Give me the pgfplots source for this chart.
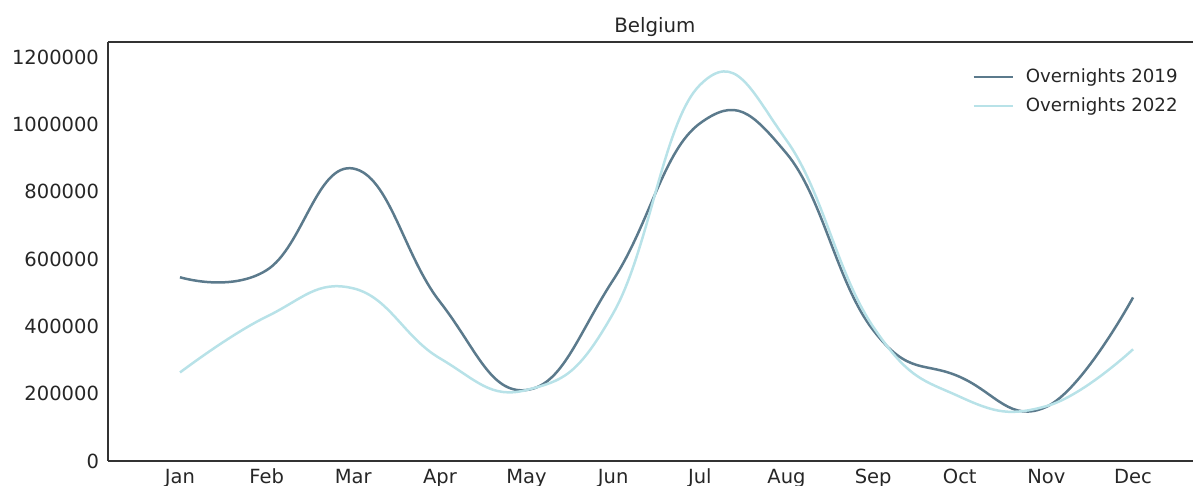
\documentclass[border=0pt]{standalone}
\usepackage{pgfplots}
\pgfplotsset{compat=1.18}
\usepackage{fontspec}
\setmainfont{DejaVu Sans}
\definecolor{dark}{HTML}{5B7A8C}
\definecolor{light}{HTML}{B8E2E8}
\definecolor{txt}{HTML}{262626}
\definecolor{spine}{HTML}{333333}
\begin{document}
\begin{tikzpicture}
\useasboundingbox (-54pt,-12.5pt) rectangle (542.5pt,230.5pt);
\begin{axis}[
  at={(0,0)}, anchor=south west,
  scale only axis,
  width=542.5pt, height=209.5pt,
  xmin=-0.831, xmax=11.692,
  ymin=0, ymax=1245000,
  axis lines=left,
  axis line style={-, color=spine, line width=0.9pt},
  extra description/.code={\draw[spine, line width=0.9pt] (rel axis cs:0,1) -- (rel axis cs:1,1);},
  xtick={0,1,2,3,4,5,6,7,8,9,10,11},
  xticklabels={Jan,Feb,Mar,Apr,May,Jun,Jul,Aug,Sep,Oct,Nov,Dec},
  ytick={0,200000,400000,600000,800000,1000000,1200000},
  yticklabels={0,200000,400000,600000,800000,1000000,1200000},
  scaled y ticks=false,
  major tick length=0pt,
  tick label style={font=\fontsize{9.75pt}{11pt}\selectfont, text=txt},
  xticklabel style={anchor=base, yshift=-11.5pt},
  yticklabel style={xshift=-1pt},
  title={Belgium},
  title style={at={(rel axis cs:0.504,1)}, anchor=base, yshift=-1.5pt, font=\fontsize{9.9pt}{11pt}\selectfont, text=txt},
  legend style={draw=none, fill=none, at={(rel axis cs:1,1)}, anchor=north east, xshift=-2.5pt, yshift=-9pt,
    font=\fontsize{9.1pt}{11pt}\selectfont, text=txt, row sep=2.2pt,
    /tikz/every odd column/.append style={column sep=4pt}},
  legend cell align=left,
  legend image code/.code={\draw[#1] (0pt,0pt) -- (19.5pt,0pt);},
  every axis plot/.append style={line width=1.25pt},
]
\addplot[dark, smooth, tension=0.75] coordinates {
 (0,546000) (1,567000) (2,869000) (3,473000) (4,211000) (5,538000)
 (6,1003000) (7,914000) (8,389000) (9,250000) (10,161000) (11,486000)};
\addlegendentry{Overnights 2019}
\addplot[light, smooth, tension=0.75] coordinates {
 (0,263000) (1,429000) (2,513000) (3,305000) (4,211000) (5,439000)
 (6,1117000) (7,953000) (8,399000) (9,191000) (10,163000) (11,332000)};
\addlegendentry{Overnights 2022}
\end{axis}
\end{tikzpicture}
\end{document}
